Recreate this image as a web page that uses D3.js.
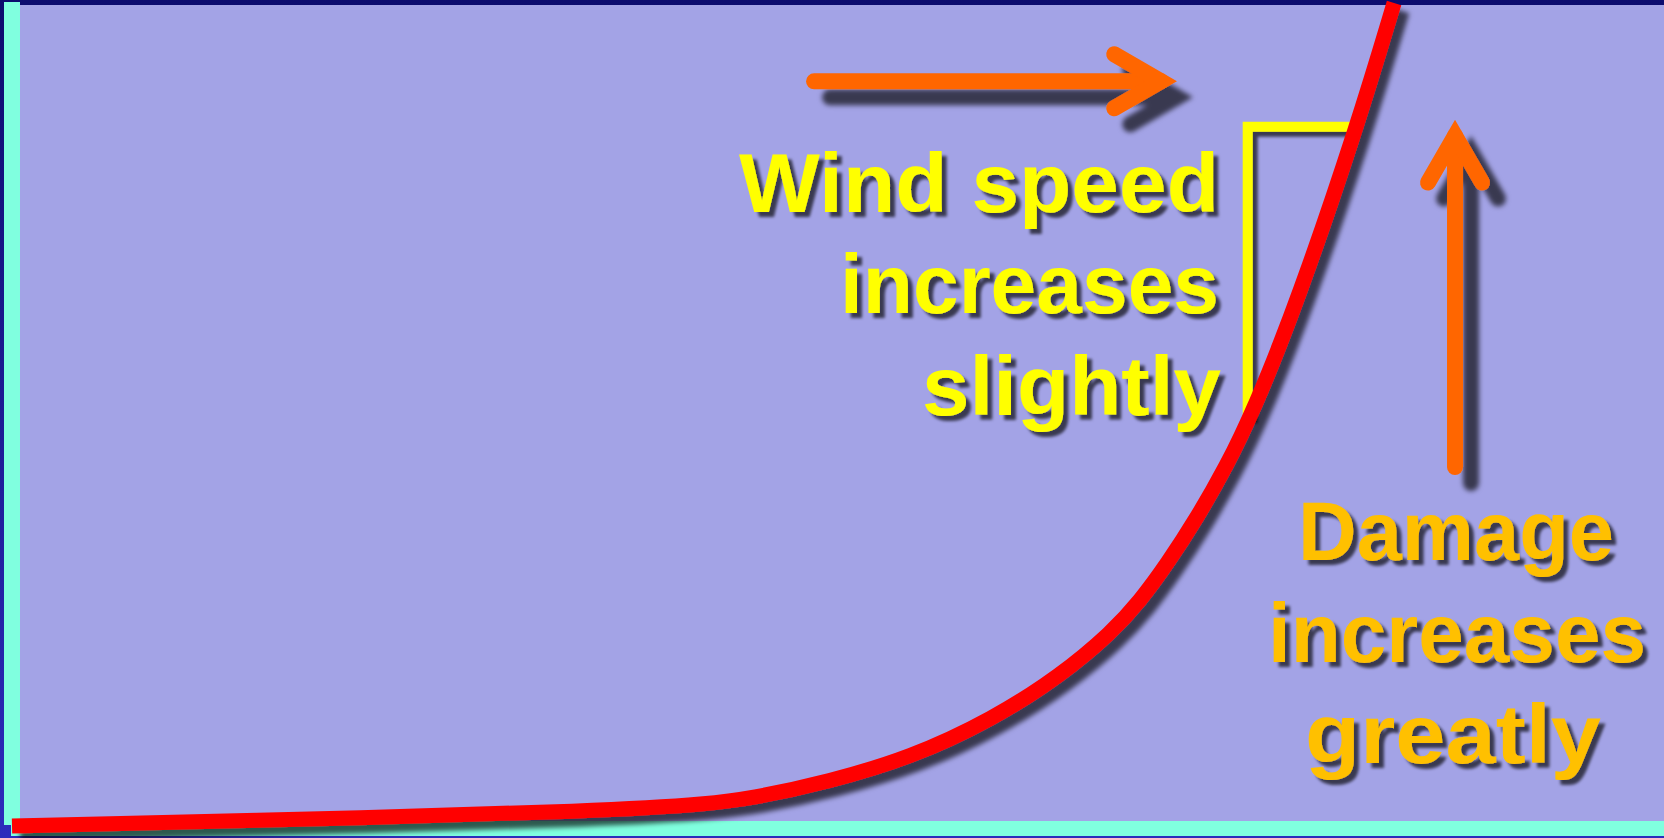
<!DOCTYPE html>
<html>
<head>
<meta charset="utf-8">
<script src="https://cdn.jsdelivr.net/npm/d3@7"></script>
<style>
  html, body { margin: 0; padding: 0; background: #0c0c6e; }
  svg { display: block; }
</style>
</head>
<body>
<svg id="chart"></svg>
<script>
// wind speed (x) vs damage (y), both in 0-100 relative units
const windSpeed = [0, 39.53, 45.28, 49.33, 54.36, 59.38, 63.44, 66.59, 68.28, 69.92, 71.76, 73.49, 75.18, 77.85, 81.45, 83.66];
const damage = [0.24, 2.06, 3.75, 5.57, 8.47, 13.2, 18.4, 23.73, 27.48, 31.96, 37.65, 43.7, 50.61, 63.92, 85.11, 99.88];

const windLines = ['Wind speed', 'increases', 'slightly'];
const damageLines = ['Damage', 'increases', 'greatly'];

// rise/run bracket and the two arrows, in data units
const bracket = { x0: 74.8, y0: 49.6, y1: 84.9, x1: 81.3 };
const windArrow = { x0: 48.55, x1: 69.55, y: 90.4 };
const damageArrow = { x: 87.35, y0: 43.7, y1: 83.8 };

const width = 1664;
const height = 838;

const svg = d3.select('#chart').attr('width', width).attr('height', height);

const x = d3.scaleLinear().domain([0, 100]).range([12, 1664]);
const y = d3.scaleLinear().domain([0, 100]).range([828, 2]);

const defs = svg.append('defs');

const grad = defs.append('linearGradient')
  .attr('id', 'bg').attr('x1', 0).attr('y1', 0).attr('x2', 0).attr('y2', 1);
grad.append('stop').attr('offset', '0%').attr('stop-color', '#0c0c6e');
grad.append('stop').attr('offset', '100%').attr('stop-color', '#2c2cbc');

function shadow(id, d, blur, op) {
  defs.append('filter')
    .attr('id', id)
    .attr('filterUnits', 'userSpaceOnUse')
    .attr('x', 0).attr('y', 0).attr('width', width).attr('height', height)
    .append('feDropShadow')
    .attr('dx', d).attr('dy', d)
    .attr('stdDeviation', blur)
    .attr('flood-color', '#000')
    .attr('flood-opacity', op);
}
shadow('shText', 5, 1.8, 0.65);
shadow('shArrow', 16, 2.5, 0.65);
shadow('shCurve', 8, 2.5, 0.65);

// backdrop
svg.append('rect').attr('width', width).attr('height', height).attr('fill', 'url(#bg)');
svg.append('rect')
  .attr('x', 20).attr('y', 5)
  .attr('width', width - 20).attr('height', 816)
  .attr('fill', '#a3a3e6');

// axes as thick aquamarine bars
const axisColor = '#80ffdf';
svg.append('line')
  .attr('x1', x(0)).attr('x2', x(0))
  .attr('y1', 2).attr('y2', 825)
  .attr('stroke', axisColor).attr('stroke-width', 16);
svg.append('line')
  .attr('x1', 11).attr('x2', width)
  .attr('y1', 828.5).attr('y2', 828.5)
  .attr('stroke', axisColor).attr('stroke-width', 15);

// yellow rise/run bracket
svg.append('path')
  .attr('d', d3.line()([
    [x(bracket.x0), y(bracket.y0)],
    [x(bracket.x0), y(bracket.y1)],
    [x(bracket.x1), y(bracket.y1)]
  ]))
  .attr('fill', 'none')
  .attr('stroke', '#ffff00')
  .attr('stroke-width', 10)
  .attr('stroke-linejoin', 'miter')
  .attr('filter', 'url(#shText)');

// text blocks
const font = '"Comic Sans MS", "Liberation Sans", Arial, sans-serif';

function textBlock(lines, layout, color) {
  const g = svg.append('g').attr('filter', 'url(#shText)');
  lines.forEach((t, i) => {
    const l = layout[i];
    g.append('text')
      .attr('x', l.left).attr('y', l.base)
      .attr('textLength', l.right - l.left)
      .attr('lengthAdjust', 'spacingAndGlyphs')
      .attr('font-family', font)
      .attr('font-weight', 'bold')
      .attr('font-size', 84)
      .attr('fill', color)
      .text(t);
  });
}

textBlock(windLines, [
  { left: 739, right: 1219, base: 212 },
  { left: 840, right: 1219, base: 313 },
  { left: 922, right: 1221, base: 415 }
], '#ffff00');

textBlock(damageLines, [
  { left: 1298, right: 1614, base: 560 },
  { left: 1268, right: 1646, base: 662 },
  { left: 1305, right: 1601, base: 763 }
], '#ffc000');

// arrows
const arrowColor = '#ff6600';
const armLen = 54;
const half = 30 * Math.PI / 180;

function arrow(x0, y0, x1, y1) {
  const ang = Math.atan2(y1 - y0, x1 - x0);
  const a1 = [x1 - armLen * Math.cos(ang - half), y1 - armLen * Math.sin(ang - half)];
  const a2 = [x1 - armLen * Math.cos(ang + half), y1 - armLen * Math.sin(ang + half)];
  const g = svg.append('g').attr('filter', 'url(#shArrow)');
  g.append('line')
    .attr('x1', x0).attr('y1', y0).attr('x2', x1).attr('y2', y1)
    .attr('stroke', arrowColor).attr('stroke-width', 16)
    .attr('stroke-linecap', 'round');
  g.append('path')
    .attr('d', d3.line()([a1, [x1, y1], a2]))
    .attr('fill', 'none')
    .attr('stroke', arrowColor).attr('stroke-width', 16)
    .attr('stroke-linecap', 'round')
    .attr('stroke-linejoin', 'miter');
}
arrow(x(windArrow.x0), y(windArrow.y), x(windArrow.x1), y(windArrow.y));
arrow(x(damageArrow.x), y(damageArrow.y0), x(damageArrow.x), y(damageArrow.y1));

// damage curve (B-spline through the read points smooths reading noise)
const pts = windSpeed.map((w, i) => [w, damage[i]]);
const line = d3.line()
  .x(d => x(d[0]))
  .y(d => y(d[1]))
  .curve(d3.curveBasis);

svg.append('path')
  .datum(pts)
  .attr('d', line)
  .attr('fill', 'none')
  .attr('stroke', '#ff0000')
  .attr('stroke-width', 15)
  .attr('filter', 'url(#shCurve)');
</script>
</body>
</html>
